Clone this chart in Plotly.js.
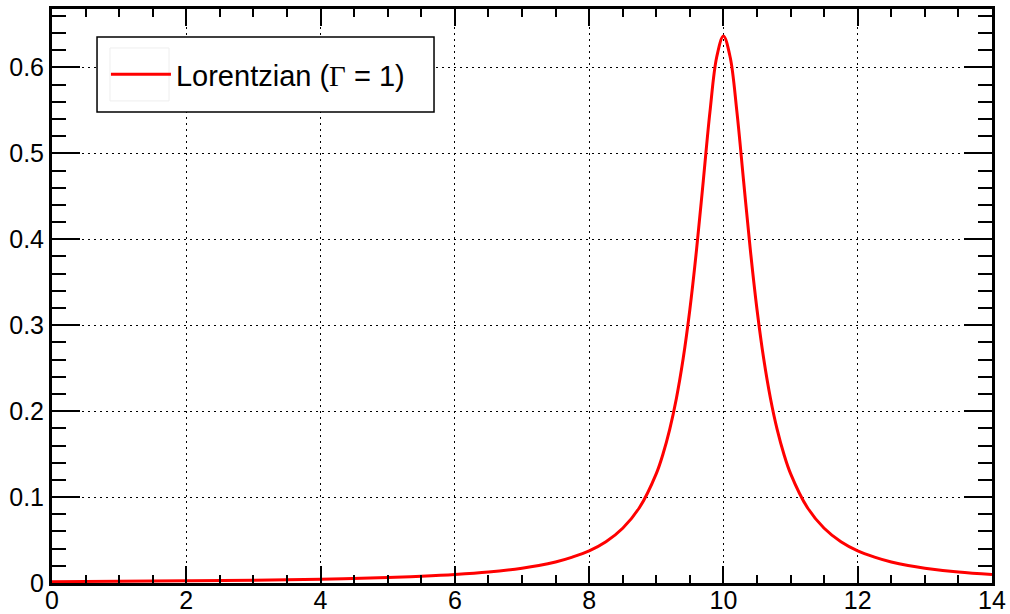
<!DOCTYPE html>
<html>
<head>
<meta charset="utf-8">
<script src="https://cdn.plot.ly/plotly-3.0.1.min.js"></script>
<style>html,body{margin:0;padding:0;background:#fff;}#chart{width:1010px;height:614px;}</style>
</head>
<body>
<div id="chart"></div>
<script>
// Values
const xValues = [0, 1, 2, 3, 4, 5, 5.5, 6, 6.5, 7, 7.25, 7.5, 7.75, 8, 8.25, 8.5, 8.75,
  9, 9.1, 9.2, 9.3, 9.4, 9.5, 9.6, 9.7, 9.8, 9.9, 10,
  10.1, 10.2, 10.3, 10.4, 10.5, 10.6, 10.7, 10.8, 10.9, 11,
  11.25, 11.5, 11.75, 12, 12.25, 12.5, 12.75, 13, 13.5, 14];
const yValues = [0.0016, 0.0020, 0.0025, 0.0032, 0.0044, 0.0063, 0.0078, 0.0098, 0.0127, 0.0172, 0.0203, 0.0245, 0.0302, 0.0374, 0.0480, 0.0637, 0.0878,
  0.1273, 0.1501, 0.1788, 0.2151, 0.2609, 0.3183, 0.3882, 0.4681, 0.5488, 0.6121, 0.6366,
  0.6121, 0.5488, 0.4681, 0.3882, 0.3183, 0.2609, 0.2151, 0.1788, 0.1501, 0.1273,
  0.0878, 0.0637, 0.0480, 0.0374, 0.0302, 0.0245, 0.0203, 0.0172, 0.0127, 0.0098];
const seriesName = 'Lorentzian (<span style="font-family:\'Liberation Serif\',serif">Γ</span> = 1)';

const font = 'Liberation Sans, Arial, Helvetica, sans-serif';

const trace = {
  x: xValues, y: yValues, type: 'scatter', mode: 'lines',
  name: seriesName,
  line: {color: '#ff0000', width: 3, shape: 'spline', smoothing: 1}
};

const axisCommon = {
  showline: true, linecolor: '#000', linewidth: 3, mirror: 'ticks',
  ticks: 'inside', tickcolor: '#000', tickwidth: 2,
  showgrid: true, gridcolor: '#000', gridwidth: 1, griddash: '2px,4px',
  zeroline: false,
  tickfont: {family: font, size: 25, color: '#000'}
};

const layout = {
  width: 1010, height: 614,
  margin: {l: 52, r: 18, t: 9, b: 31},
  paper_bgcolor: '#fff', plot_bgcolor: '#fff',
  showlegend: true,
  xaxis: Object.assign({}, axisCommon, {
    range: [0, 14], dtick: 2, tick0: 0, ticklen: 17, ticklabelstandoff: -7,
    minor: {dtick: 0.5, ticks: 'inside', ticklen: 8, tickcolor: '#000', tickwidth: 2, showgrid: false}
  }),
  yaxis: Object.assign({}, axisCommon, {
    range: [0, 0.668], dtick: 0.1, tick0: 0, ticklen: 28,
    minor: {dtick: 0.02, ticks: 'inside', ticklen: 14, tickcolor: '#000', tickwidth: 2, showgrid: false}
  }),
  shapes: [
    {type: 'rect', xref: 'paper', yref: 'paper', x0: 0.0479, x1: 0.4064, y0: 0.8206, y1: 0.9512,
     line: {color: '#000', width: 1.5}, fillcolor: '#fff', layer: 'above'},
    {type: 'rect', xref: 'paper', yref: 'paper', x0: 0.0617, x1: 0.1245, y0: 0.8399, y1: 0.9321,
     line: {color: '#eeeeee', width: 1}, fillcolor: 'rgba(0,0,0,0)', layer: 'above'}
  ],
  legend: {
    x: 0.0574, y: 0.886, xanchor: 'left', yanchor: 'middle',
    bgcolor: 'rgba(0,0,0,0)', borderwidth: 0,
    font: {family: font, size: 29, color: '#000'},
    itemwidth: 60
  }
};

Plotly.newPlot('chart', [trace], layout, {displayModeBar: false, staticPlot: true});
</script>
</body>
</html>
